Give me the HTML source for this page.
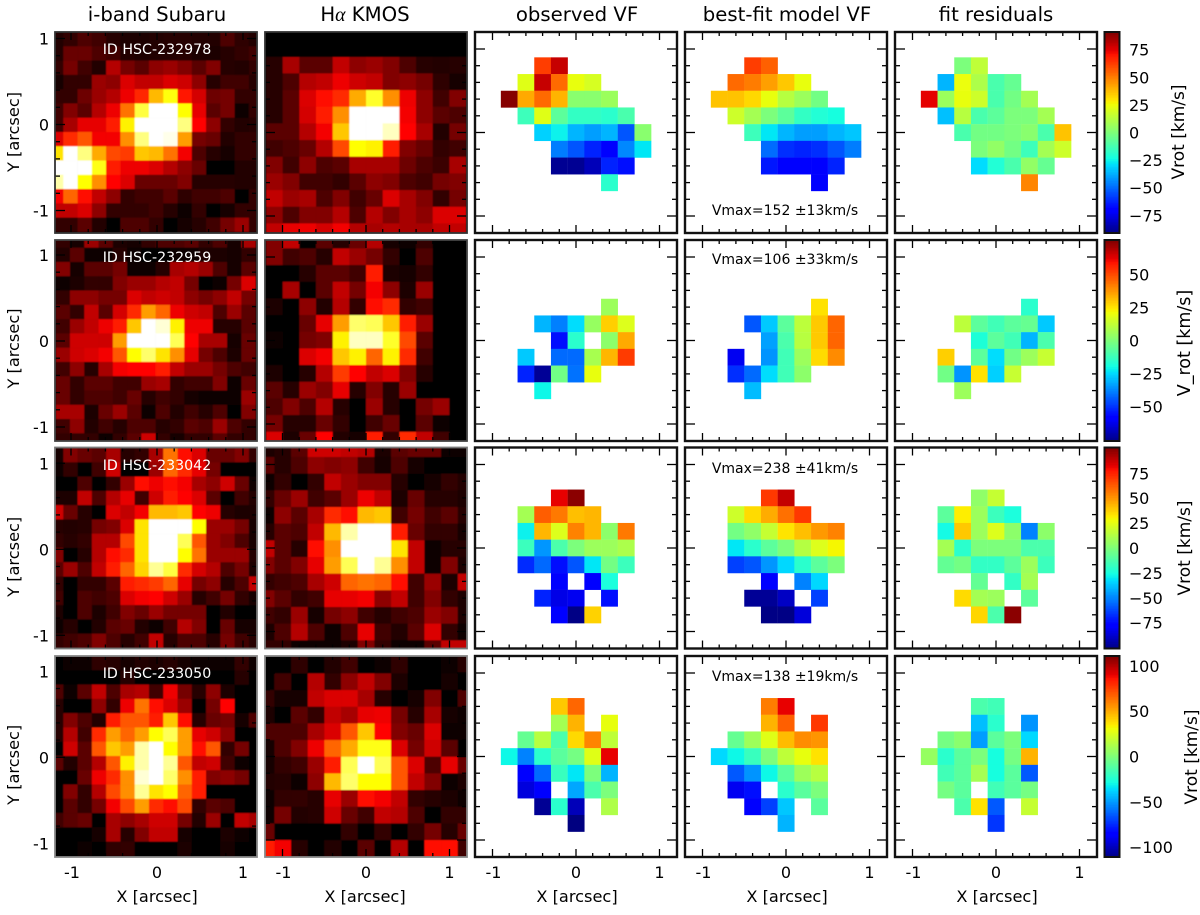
<!DOCTYPE html>
<html lang="en">
<head>
<meta charset="utf-8">
<title>Galaxy velocity fields</title>
<style>
html,body{margin:0;padding:0;background:#fff}
svg{display:block}
text{font-family:"DejaVu Sans","Liberation Sans",sans-serif;fill:#000}
</style>
</head>
<body>
<svg id="figure" xmlns="http://www.w3.org/2000/svg" width="1200" height="915" viewBox="0 0 1200 915">
<defs>
<filter id="soft-image" x="-5%" y="-5%" width="110%" height="110%"><feGaussianBlur stdDeviation="0.6"/></filter>
<filter id="soft-velocity" x="-5%" y="-5%" width="110%" height="110%"><feGaussianBlur stdDeviation="0.35"/></filter>
</defs>
</svg>
<script>
const _ = null;

// Column titles, galaxy ids and fit results
const columnTitles = ["i-band Subaru", "KMOS", "observed VF", "best-fit model VF", "fit residuals"];
const galaxyIds = ["ID HSC-232978", "ID HSC-232959", "ID HSC-233042", "ID HSC-233050"];
const vmaxLabels = ["Vmax=152 \u00b113km/s", "Vmax=106 \u00b133km/s", "Vmax=238 \u00b141km/s", "Vmax=138 \u00b119km/s"];
const colorbarTitles = ["Vrot [km/s]", "V_rot [km/s]", "Vrot [km/s]", "Vrot [km/s]"];
const colorbarLimits = [91, 76, 101, 111];
const colorbarTicks = [
  [75, 50, 25, 0, -25, -50, -75],
  [50, 25, 0, -25, -50],
  [75, 50, 25, 0, -25, -50, -75],
  [100, 50, 0, -50, -100]
];
const axisTickLabels = [1, 0, -1];
const axisTicks = [-1, -0.8, -0.6, -0.4, -0.2, 0, 0.2, 0.4, 0.6, 0.8, 1];
const velocityX = [-0.8, -0.6, -0.4, -0.2, 0, 0.2, 0.4, 0.6, 0.8];
const velocityY = [0.8, 0.6, 0.4, 0.2, 0, -0.2, -0.4, -0.6, -0.8];

// Image flux (percent of the hot colour scale)
const row1Iband = [
[5,8,12,10,6,4,4,5,6,6,5,5,12,7,5],
[5,16,16,12,10,5,4,5,5,6,4,4,6,8,10],
[8,18,10,5,28,18,14,22,24,20,14,20,6,5,8],
[3,8,8,24,22,34,30,30,34,32,22,6,10,10,6],
[8,8,17,24,28,37,45,66,77,43,33,17,18,8,8],
[10,20,14,28,37,56,82,100,100,76,36,14,18,2,8],
[10,26,36,36,44,74,100,100,100,88,40,22,8,5,6],
[34,46,52,38,38,60,88,100,98,62,18,16,5,8,8],
[72,100,88,64,50,48,68,66,56,38,12,6,3,8,8],
[100,100,100,78,44,37,37,34,28,22,16,1,1,5,5],
[92,100,76,60,40,34,16,16,16,20,6,6,6,5,5],
[38,54,42,30,22,8,10,10,14,7,10,10,12,1,8],
[30,30,34,22,8,8,8,10,6,2,8,1,3,8,8],
[8,8,14,5,1,12,12,8,1,3,6,10,18,24,8]
];
const row1Halpha = [
[6,26,14,14,30,22,24,20,12,6,5,6],
[6,12,28,30,37,32,30,20,22,18,7,3],
[6,14,34,42,46,64,80,60,37,22,10,20],
[6,14,33,44,60,100,100,100,38,22,14,12],
[14,14,28,38,68,100,100,94,40,26,5,18],
[10,12,16,28,50,76,74,44,20,16,8,10],
[20,10,22,12,14,26,26,26,17,12,9,26],
[24,20,10,10,8,14,22,20,12,10,18,20],
[30,24,26,12,20,10,16,34,26,20,8,18],
[22,12,20,20,28,12,28,20,26,22,34,34],
[30,36,37,33,38,28,26,28,26,26,30,30]
];
const row2Iband = [
[8,3,24,14,4,3,8,12,12,14,8,12,3,26],
[5,14,2,2,6,2,1,1,2,2,4,4,3,8],
[20,3,14,14,18,2,2,6,26,28,24,12,3,14],
[2,4,8,8,20,24,24,28,30,18,1,2,18,34],
[8,22,22,18,18,34,30,32,30,22,18,22,30,18],
[14,8,30,14,33,46,62,54,37,32,30,12,24,14],
[10,24,30,37,44,68,100,96,74,37,37,6,6,14],
[14,32,32,32,62,100,100,100,84,40,26,26,3,16],
[24,32,34,38,52,76,86,72,60,36,18,12,4,16],
[10,22,6,26,38,40,40,44,30,24,24,18,12,10],
[16,8,14,14,10,10,24,26,8,10,10,20,2,16],
[16,8,12,12,10,16,6,10,8,3,2,2,2,24],
[26,26,4,16,24,14,2,12,5,10,6,12,1,20],
[10,22,5,10,6,12,12,6,8,14,12,24,12,8],
[8,8,8,2,8,14,32,8,3,8,8,14,8,8]
];
const row2Halpha = [
[20,30,1,14,6,16,28,3,2,8,1,0],
[20,10,12,6,30,24,18,8,1,12,1,0],
[0,0,6,14,14,10,44,4,3,8,1,0],
[1,26,1,14,30,18,38,22,4,24,1,0],
[4,1,22,5,28,8,42,46,8,10,1,0],
[1,1,16,36,62,86,84,68,44,24,1,0],
[2,1,18,20,74,94,94,80,50,14,1,0],
[1,1,34,38,68,74,54,74,46,10,1,0],
[4,1,6,28,48,40,30,34,20,6,1,0],
[14,6,24,20,36,6,20,6,24,1,1,0],
[12,20,12,28,6,1,24,6,1,18,24,0],
[18,6,6,16,8,1,10,16,1,14,2,0],
[34,4,16,40,5,3,44,8,46,30,10,0]
];
const row3Iband = [
[3,20,16,14,26,6,8,26,56,42,34,16,16,20,8],
[2,8,1,10,32,1,1,24,54,46,36,18,1,1,1],
[0,1,12,1,8,24,42,37,42,38,26,22,32,16,2],
[4,4,30,12,28,36,10,32,44,40,34,14,1,10,5],
[32,16,6,1,34,30,38,66,66,68,40,37,6,4,4],
[6,5,6,18,20,34,72,100,100,100,76,24,24,18,3],
[8,6,8,28,28,50,72,100,100,84,52,24,20,12,3],
[20,1,6,28,42,46,72,100,100,76,56,24,24,24,5],
[14,24,12,30,44,54,70,90,82,46,33,28,12,18,4],
[8,1,8,8,14,44,46,48,54,36,18,22,6,12,30],
[10,1,12,10,12,34,38,40,32,24,6,10,18,8,3],
[4,1,12,4,10,20,16,24,18,18,18,1,5,1,1],
[2,6,1,5,14,16,5,2,10,28,20,1,16,3,3],
[8,10,12,20,12,6,10,30,6,12,12,6,18,10,6]
];
const row3Halpha = [
[4,6,14,32,32,30,28,4,14,16,16,2,2],
[14,6,12,22,20,22,10,3,12,3,1,1,1],
[2,8,1,8,30,24,20,20,6,1,3,8,5],
[8,16,24,10,14,24,37,30,4,16,6,6,4],
[2,22,14,26,46,42,66,68,10,18,10,14,6],
[6,14,12,30,66,92,100,100,44,16,8,8,3],
[30,14,6,42,60,100,100,100,72,30,2,6,6],
[20,14,20,36,62,84,100,90,60,30,2,20,4],
[8,10,12,26,32,54,56,54,42,10,24,4,30],
[20,14,8,10,36,36,38,22,30,10,20,8,4],
[10,8,24,3,18,22,10,6,10,12,24,20,4],
[4,12,28,12,2,12,36,10,5,14,34,8,2],
[8,8,2,2,2,4,20,8,2,2,14,30,30]
];
const row4Iband = [
[1,2,2,7,6,3,5,4,6,3,2,2,2,8,2],
[1,1,1,1,1,6,1,1,1,1,1,1,1,6,1],
[12,2,14,30,12,26,28,10,37,18,6,22,4,1,1],
[6,1,1,22,8,37,56,42,34,24,1,18,40,1,1],
[6,20,12,5,44,52,52,44,68,42,6,16,18,3,12],
[6,28,10,46,62,54,62,76,84,62,36,32,22,1,1],
[1,32,14,52,68,62,92,100,76,62,42,52,8,18,1],
[14,5,14,28,52,74,92,100,90,52,30,32,10,2,1],
[1,1,16,37,46,60,96,100,86,60,44,20,22,18,1],
[1,20,8,28,50,60,90,72,76,54,44,0,0,0,0],
[1,14,8,18,38,50,62,46,42,50,8,14,12,0,0],
[10,14,16,1,26,22,26,32,32,18,5,24,1,30,26],
[1,1,1,3,26,6,20,30,30,3,1,1,4,2,1],
[1,1,2,1,7,8,0,0,0,4,1,1,3,1,1]
];
const row4Halpha = [
[1,1,7,1,5,10,1,2,7,1,1,2,6],
[1,10,1,28,8,22,30,20,4,1,1,3,1],
[8,3,3,30,34,34,26,6,1,3,20,1,12],
[4,1,14,8,30,26,36,37,18,6,26,3,2],
[12,12,12,26,34,52,68,40,20,16,34,2,2],
[3,12,20,37,54,64,78,78,34,18,32,14,1],
[3,8,10,24,44,84,100,84,52,34,12,36,16],
[5,6,2,22,66,86,76,76,52,30,20,2,4],
[2,8,8,6,36,24,42,38,30,8,6,4,2],
[2,18,5,6,32,16,10,30,28,12,1,8,8],
[16,1,1,1,1,8,1,8,1,8,18,6,16],
[44,38,6,1,5,1,14,1,28,1,42,42,10]
];

// Line-of-sight velocities in km/s
const row1Observed = [
[_,_,63,80,_,_,_,_,_],
[_,22,80,54,24,20,_,_,_],
[90,42,54,40,3,3,7,_,_],
[_,-14,22,-7,-16,-16,-18,-11,_],
[_,_,-31,-25,-36,-40,-36,-53,3],
[_,_,_,-46,-53,-62,-69,-44,-27],
[_,_,_,-88,-88,-82,-62,-67,_],
[_,_,_,_,_,_,-18,_,_],
[_,_,_,_,_,_,_,_,_]
];
const row1Model = [
[_,_,63,56,_,_,_,_,_],
[_,54,51,44,36,24,_,_,_],
[37,37,33,24,13,7,-2,_,_],
[_,18,9,0,-7,-16,-20,-22,_],
[_,_,-14,-27,-36,-40,-40,-36,-33],
[_,_,_,-49,-60,-62,-60,-53,-46],
[_,_,_,-65,-69,-69,-68,-62,_],
[_,_,_,_,_,_,-69,_,_],
[_,_,_,_,_,_,_,_,_]
];
const row1Residual = [
[_,_,0,15,_,_,_,_,_],
[_,-36,25,11,-11,-5,_,_,_],
[75,7,24,18,-11,-2,9,_,_],
[_,-34,13,-11,-7,0,0,9,_],
[_,_,-11,-2,-2,0,3,-11,37],
[_,_,_,0,5,-2,-14,9,18],
[_,_,_,-29,-20,-11,5,-5,_],
[_,_,_,_,_,_,49,_,_],
[_,_,_,_,_,_,_,_,_]
];
const row2Observed = [
[_,_,_,_,_,_,_,_,_],
[_,_,_,_,_,_,_,_,_],
[_,_,_,_,_,_,6,_,_],
[_,_,-30,-38,-24,5,29,18,_],
[_,_,_,-55,-15,_,3,35,_],
[_,-27,_,-41,-41,8,33,53,_],
[_,-52,-73,-2,-40,20,_,_,_],
[_,_,-20,_,_,_,_,_,_],
[_,_,_,_,_,_,_,_,_]
];
const row2Model = [
[_,_,_,_,_,_,_,_,_],
[_,_,_,_,_,_,_,_,_],
[_,_,_,_,_,_,26,_,_],
[_,_,-44,-27,-6,12,30,46,_],
[_,_,_,-33,-9,11,30,46,_],
[_,-61,_,-35,-11,6,27,40,_],
[_,-50,-41,-24,-11,3,_,_,_],
[_,_,-29,_,_,_,_,_,_],
[_,_,_,_,_,_,_,_,_]
];
const row2Residual = [
[_,_,_,_,_,_,_,_,_],
[_,_,_,_,_,_,_,_,_],
[_,_,_,_,_,_,-15,_,_],
[_,_,12,-6,-11,-6,-4,-27,_],
[_,_,_,-17,-6,-11,-30,-9,_],
[_,29,_,-6,-24,-2,6,14,_],
[_,-2,-35,26,-26,14,_,_,_],
[_,_,6,_,_,_,_,_,_],
[_,_,_,_,_,_,_,_,_]
];
const row3Observed = [
[_,_,_,_,_,_,_,_,_],
[_,_,_,83,99,_,_,_,_],
[_,10,63,57,42,44,_,_,_],
[_,-28,44,24,55,44,4,57,_],
[_,-16,-46,-12,0,8,8,12,_],
[_,-67,-55,-73,-59,-30,-2,-16,_],
[_,_,_,-77,_,-77,-24,_,_],
[_,_,-69,-83,-81,_,-73,_,_],
[_,_,_,-75,-100,38,_,_,_]
];
const row3Model = [
[_,_,_,_,_,_,_,_,_],
[_,_,_,71,89,_,_,_,_],
[_,20,36,46,59,71,_,_,_],
[_,-2,5,18,34,42,50,55,_],
[_,-30,-20,-8,0,14,24,30,_],
[_,-63,-59,-46,-33,-20,-8,0,_],
[_,_,_,-77,_,-50,-33,_,_],
[_,_,-97,-97,-89,_,-63,_,_],
[_,_,_,-100,-100,-85,_,_,_]
];
const row3Residual = [
[_,_,_,_,_,_,_,_,_],
[_,_,_,5,18,_,_,_,_],
[_,-8,32,8,-16,-24,_,_,_],
[_,-26,40,8,24,4,-50,4,_],
[_,10,-20,0,0,0,-12,-12,_],
[_,-6,-2,-18,-18,-8,8,-16,_],
[_,_,_,-6,_,-18,10,_,_],
[_,_,36,10,8,_,-8,_,_],
[_,_,_,37,-12,99,_,_,_]
];
const row4Observed = [
[_,_,_,_,_,_,_,_,_],
[_,_,_,44,67,_,_,_,_],
[_,_,_,11,49,_,29,_,_],
[_,-6,16,-13,40,60,18,_,_],
[-29,-55,-22,-9,-2,27,91,_,_],
[_,-84,-60,-18,-33,0,-44,_,_],
[_,-93,-84,_,-47,-13,0,_,_],
[_,_,-107,-22,-100,_,14,_,_],
[_,_,_,_,-111,_,_,_,_]
];
const row4Model = [
[_,_,_,_,_,_,_,_,_],
[_,_,_,62,91,_,_,_,_],
[_,_,_,49,69,_,78,_,_],
[_,-6,9,27,47,58,56,_,_],
[-36,-29,-18,0,18,29,38,_,_],
[_,-64,-51,-29,-9,9,16,_,_],
[_,-89,-80,_,-22,-9,0,_,_],
[_,_,-86,-69,-40,_,-9,_,_],
[_,_,_,_,-44,_,_,_,_]
];
const row4Residual = [
[_,_,_,_,_,_,_,_,_],
[_,_,_,-13,-16,_,_,_,_],
[_,_,_,-42,-22,_,-51,_,_],
[_,-2,4,-49,-9,0,-36,_,_],
[7,-22,-9,0,-27,-2,49,_,_],
[_,-16,-9,11,-27,-9,-64,_,_],
[_,-2,-9,_,-16,-9,-2,_,_],
[_,_,-13,38,-64,_,20,_,_],
[_,_,_,_,-72,_,_,_,_]
];

const ibandSeries = [row1Iband, row2Iband, row3Iband, row4Iband];
const halphaSeries = [row1Halpha, row2Halpha, row3Halpha, row4Halpha];
const observedSeries = [row1Observed, row2Observed, row3Observed, row4Observed];
const modelSeries = [row1Model, row2Model, row3Model, row4Model];
const residualSeries = [row1Residual, row2Residual, row3Residual, row4Residual];

// ---------- layout ----------
const NS = "http://www.w3.org/2000/svg";
const svg = document.getElementById("figure");
const panelLefts = [55, 265, 475, 685, 895];
const rowTops = [32, 240, 447.5, 656];
const panelW = 202, panelH = 201;
const cbLeft = 1104.5, cbW = 15;
const imgLayout = {
  iband: { cell: 14.28, edgeX: [49, 55.7, 49, 49], edgeY: [32, 233.4, 448, 656] },
  halpha: { cell: 16.67, edgeX: [266, 266, 257.7, 257.7], edgeY: [56.7, 231.7, 440.3, 656.7] }
};
const ibandZeroY = [124.5, 341, 549.3, 757.3];
const imageFrameColors = ["#333", "#444", "#777", "#888"];

function make(tag, attrs, parent) {
  const el = document.createElementNS(NS, tag);
  for (const k in attrs) el.setAttribute(k, attrs[k]);
  (parent || svg).appendChild(el);
  return el;
}

// ---------- colour maps ----------
const clip01 = v => Math.max(0, Math.min(1, v));
function hot(p) {
  const adj = p <= 40 ? p * 0.92 : 36.8 + (p - 40) * (63.2 / 60);
  const t = adj / 100;
  const r = clip01(t / 0.365), g = clip01((t - 0.365) / 0.381), b = clip01((t - 0.746) / 0.254);
  return `rgb(${Math.round(r * 255)},${Math.round(g * 255)},${Math.round(b * 255)})`;
}
function seg(t, pts) {
  for (let i = 1; i < pts.length; i++) {
    if (t <= pts[i][0]) {
      const a = pts[i - 1], c = pts[i];
      return a[1] + (c[1] - a[1]) * (t - a[0]) / (c[0] - a[0]);
    }
  }
  return pts[pts.length - 1][1];
}
function jet(t) {
  t = clip01(t);
  const r = seg(t, [[0, 0], [0.35, 0], [0.66, 1], [0.89, 1], [1, 0.5]]);
  const g = seg(t, [[0, 0], [0.125, 0], [0.375, 1], [0.64, 1], [0.91, 0], [1, 0]]);
  const b = seg(t, [[0, 0.5], [0.11, 1], [0.34, 1], [0.65, 0], [1, 0]]);
  return `rgb(${Math.round(r * 255)},${Math.round(g * 255)},${Math.round(b * 255)})`;
}

// ---------- axis functions ----------
function axisFor(col, row) {
  const left = panelLefts[col], top = rowTops[row];
  if (col === 0) {
    return { unit: 86, x: v => 157 + v * 86, y: v => ibandZeroY[row] - v * 86, left, top };
  }
  const cx = left + panelW / 2, cy = top + panelH / 2;
  return { unit: 83.5, x: v => cx + v * 83.5, y: v => cy - v * 83.5, left, top };
}

function drawTicks(g, ax) {
  const { left, top } = ax;
  const right = left + panelW, bottom = top + panelH;
  axisTicks.forEach(v => {
    const major = Number.isInteger(v);
    const len = major ? 10 : 5;
    const px = ax.x(v), py = ax.y(v);
    [[px, top, px, top + len * 0.8], [px, bottom, px, bottom - len * 0.8]].forEach(s => {
      const t = make("line", { x1: s[0], y1: s[1], x2: s[2], y2: s[3], stroke: "#000", "stroke-width": 1.3 }, g);
      
      
    });
    [[left, py, left + len, py], [right, py, right - len, py]].forEach(s => {
      const t = make("line", { x1: s[0], y1: s[1], x2: s[2], y2: s[3], stroke: "#000", "stroke-width": 1.3 }, g);
      
      
    });
  });
}

function drawFrame(g, ax, color, width) {
  const fr = make("rect", { x: ax.left, y: ax.top, width: panelW, height: panelH, fill: "none", stroke: color, "stroke-width": width }, g);
  
  
}

function drawImagePanel(col, row, data, layout, name) {
  const ax = axisFor(col, row);
  const g = make("g", {});
  
  
  const clipId = `clip-${col}-${row}`;
  const cp = make("clipPath", { id: clipId }, g);
  make("rect", { x: ax.left, y: ax.top, width: panelW, height: panelH }, cp);
  const bg = make("rect", { x: ax.left, y: ax.top, width: panelW, height: panelH, fill: "#000" }, g);
  
  
  const clipped = make("g", { "clip-path": `url(#${clipId})` }, g);
  const cells = make("g", { filter: "url(#soft-image)" }, clipped);
  const cellX = i => layout.edgeX[row] + i * layout.cell;
  const cellY = j => layout.edgeY[row] + j * layout.cell;
  data.forEach((line, j) => line.forEach((val, i) => {
    const c = make("rect", { x: cellX(i), y: cellY(j), width: layout.cell + 0.3, height: layout.cell + 0.3, fill: hot(val) }, cells);
    
    
  }));
  drawTicks(g, ax);
  drawFrame(g, ax, imageFrameColors[row], 1.8);
  return g;
}

function drawVelocityPanel(col, row, data, name) {
  const ax = axisFor(col, row);
  const limit = colorbarLimits[row];
  const g = make("g", {});
  
  
  const bg = make("rect", { x: ax.left, y: ax.top, width: panelW, height: panelH, fill: "#fff" }, g);
  
  
  const cells = make("g", { filter: "url(#soft-velocity)" }, g);
  const size = ax.unit * 0.2;
  data.forEach((line, j) => line.forEach((val, i) => {
    if (val === null) return;
    const c = make("rect", {
      x: ax.x(velocityX[i]) - size / 2, y: ax.y(velocityY[j]) - size / 2,
      width: size + 0.2, height: size + 0.2, fill: jet((val + limit) / (2 * limit))
    }, cells);
    
    
  }));
  drawTicks(g, ax);
  drawFrame(g, ax, "#111", 2.4);
  return g;
}

function drawColorbar(row) {
  const limit = colorbarLimits[row], top = rowTops[row];
  const g = make("g", {});
  
  
  const valueY = v => top + panelH / 2 - v / limit * panelH / 2;
  const steps = 128;
  const strip = make("g", { "shape-rendering": "crispEdges" }, g);
  for (let i = 0; i < steps; i++) {
    const vTop = limit - 2 * limit * i / steps;
    const s = make("rect", { x: cbLeft, y: valueY(vTop), width: cbW, height: panelH / steps + 0.4, fill: jet((vTop + limit) / (2 * limit)) }, strip);
    
    
  }
  const fr = make("rect", { x: cbLeft, y: top, width: cbW, height: panelH, fill: "none", stroke: "#111", "stroke-width": 2 }, g);
  
  
  colorbarTicks[row].forEach(v => {
    const t = make("text", { x: 1129, y: valueY(v) + 6, "font-size": 16 }, g);
    t.textContent = v < 0 ? "\u2212" + Math.abs(v) : String(v);
    
    
  });
  const titleX = [1184, 1190, 1190, 1197][row];
  const titleY = [132, 343, 548, 757][row];
  const titleSize = row === 1 ? 17.5 : 17;
  const title = make("text", { x: titleX, y: titleY, "font-size": titleSize, "text-anchor": "middle", transform: `rotate(-90 ${titleX} ${titleY})` }, g);
  title.textContent = colorbarTitles[row];
  
  
}

// ---------- draw all ----------
for (let r = 0; r < 4; r++) {
  drawImagePanel(0, r, ibandSeries[r], imgLayout.iband, "iband-panel");
  drawImagePanel(1, r, halphaSeries[r], imgLayout.halpha, "halpha-panel");
  drawVelocityPanel(2, r, observedSeries[r], "observed-velocity-panel");
  drawVelocityPanel(3, r, modelSeries[r], "model-velocity-panel");
  drawVelocityPanel(4, r, residualSeries[r], "residual-velocity-panel");
  drawColorbar(r);

  const idY = [54, 262, 470, 678][r];
  const idLabel = make("text", { x: 157, y: idY, "font-size": 14.2, "text-anchor": "middle", style: "fill:#fff" });
  idLabel.textContent = galaxyIds[r];
  
  

  const vmY = [215, 264, 473, 681][r];
  const vmLabel = make("text", { x: 785, y: vmY, "font-size": 14, "text-anchor": "middle" });
  vmLabel.textContent = vmaxLabels[r];
  
  

  const yAxis = axisFor(0, r);
  axisTickLabels.forEach(v => {
    const t = make("text", { x: 49, y: yAxis.y(v) + 6, "font-size": 16, "text-anchor": "end" });
    t.textContent = String(v);
    
    
  });
  const yt = ibandZeroY[r] + 7.5;
  const yTitle = make("text", { x: 19, y: yt, "font-size": 16.2, "text-anchor": "middle", transform: `rotate(-90 19 ${yt})` });
  yTitle.textContent = "Y [arcsec]";
  
  
}

const titleCenters = [157, 365, 577, 787, 996];
columnTitles.forEach((label, i) => {
  const t = make("text", { x: titleCenters[i], y: 21, "font-size": 19.7, "text-anchor": "middle" });
  if (i === 1) {
    const h = make("tspan", {}, t);
    h.textContent = "H";
    const a = make("tspan", { style: 'font-family:"Liberation Serif",serif;font-style:italic' }, t);
    a.textContent = "\u03b1";
    const k = make("tspan", {}, t);
    k.textContent = " " + label;
  } else {
    t.textContent = label;
  }
  
  
});

for (let c = 0; c < 5; c++) {
  const ax = axisFor(c, 3);
  axisTickLabels.forEach(v => {
    const off = v === -1 ? 1 : 0;
    const t = make("text", { x: ax.x(v) + off, y: 878, "font-size": 16, "text-anchor": "middle" });
    t.textContent = String(v);
    
    
  });
  const t = make("text", { x: titleCenters[c] + (c === 4 ? 1 : 0), y: 902, "font-size": 16.2, "text-anchor": "middle" });
  t.textContent = "X [arcsec]";
  
  
}
</script>
</body>
</html>
